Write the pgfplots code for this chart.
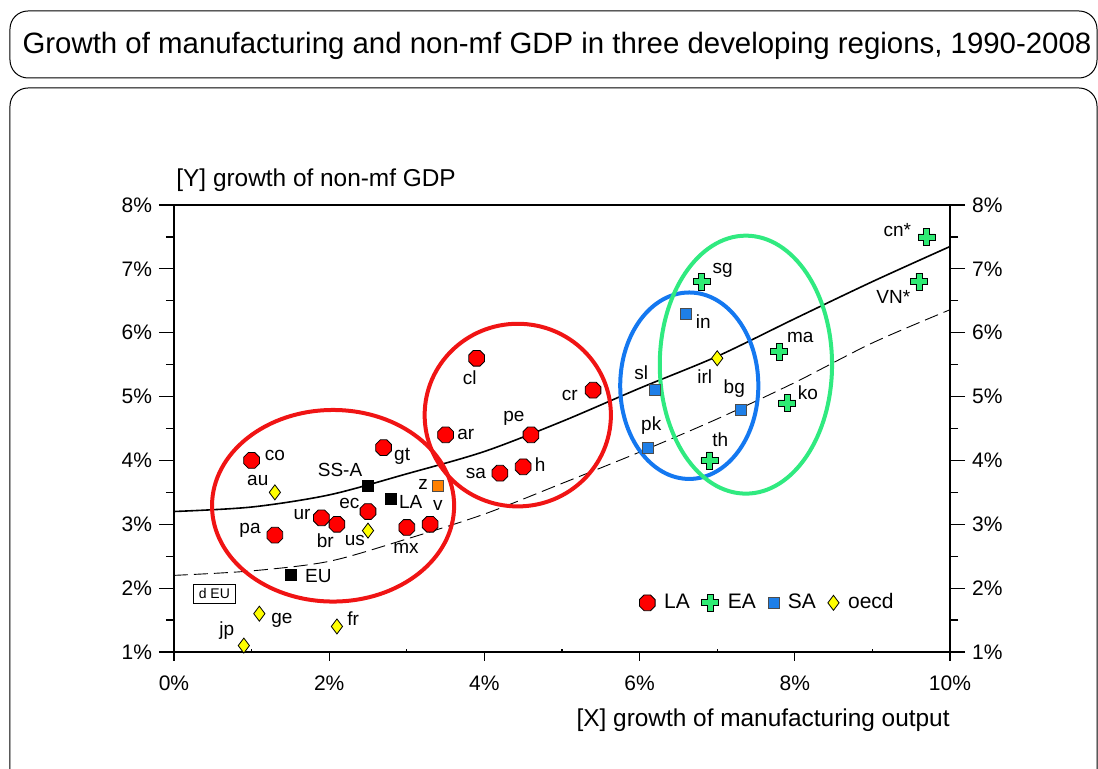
\documentclass[border=0pt]{standalone}
\usepackage{fontspec}
\setmainfont{Liberation Sans}
\usepackage{pgfplots}
\usepackage{pgfplotstable}
\pgfplotsset{compat=1.18}
\usetikzlibrary{plotmarks}

\definecolor{laRed}{HTML}{FF0000}
\definecolor{eaGreen}{HTML}{2EEB74}
\definecolor{saBlue}{HTML}{1E7FE8}
\definecolor{oeYellow}{HTML}{FFFF00}
\definecolor{zOrange}{HTML}{FF8000}
\definecolor{ringRed}{HTML}{F01414}
\definecolor{ringBlue}{HTML}{1478F0}
\definecolor{ringGreen}{HTML}{30EA80}

% octagon and fat cross marks
\pgfdeclareplotmark{octagon}{%
  \pgfpathmoveto{\pgfqpointpolar{22.5}{\pgfplotmarksize}}%
  \pgfpathlineto{\pgfqpointpolar{67.5}{\pgfplotmarksize}}%
  \pgfpathlineto{\pgfqpointpolar{112.5}{\pgfplotmarksize}}%
  \pgfpathlineto{\pgfqpointpolar{157.5}{\pgfplotmarksize}}%
  \pgfpathlineto{\pgfqpointpolar{202.5}{\pgfplotmarksize}}%
  \pgfpathlineto{\pgfqpointpolar{247.5}{\pgfplotmarksize}}%
  \pgfpathlineto{\pgfqpointpolar{292.5}{\pgfplotmarksize}}%
  \pgfpathlineto{\pgfqpointpolar{337.5}{\pgfplotmarksize}}%
  \pgfpathclose\pgfusepathqfillstroke}
\pgfdeclareplotmark{fatplus}{%
  \pgfpathmoveto{\pgfqpoint{0.35\pgfplotmarksize}{\pgfplotmarksize}}%
  \pgfpathlineto{\pgfqpoint{0.35\pgfplotmarksize}{0.35\pgfplotmarksize}}%
  \pgfpathlineto{\pgfqpoint{\pgfplotmarksize}{0.35\pgfplotmarksize}}%
  \pgfpathlineto{\pgfqpoint{\pgfplotmarksize}{-0.35\pgfplotmarksize}}%
  \pgfpathlineto{\pgfqpoint{0.35\pgfplotmarksize}{-0.35\pgfplotmarksize}}%
  \pgfpathlineto{\pgfqpoint{0.35\pgfplotmarksize}{-\pgfplotmarksize}}%
  \pgfpathlineto{\pgfqpoint{-0.35\pgfplotmarksize}{-\pgfplotmarksize}}%
  \pgfpathlineto{\pgfqpoint{-0.35\pgfplotmarksize}{-0.35\pgfplotmarksize}}%
  \pgfpathlineto{\pgfqpoint{-\pgfplotmarksize}{-0.35\pgfplotmarksize}}%
  \pgfpathlineto{\pgfqpoint{-\pgfplotmarksize}{0.35\pgfplotmarksize}}%
  \pgfpathlineto{\pgfqpoint{-0.35\pgfplotmarksize}{0.35\pgfplotmarksize}}%
  \pgfpathlineto{\pgfqpoint{-0.35\pgfplotmarksize}{\pgfplotmarksize}}%
  \pgfpathclose\pgfusepathqfillstroke}

\pgfplotstableread{
x y
1.0 4.0
1.3 2.83
1.9 3.1
2.1 3.0
2.5 3.2
2.7 4.2
3.0 2.95
3.3 3.0
3.5 4.4
3.9 5.6
4.2 3.8
4.5 3.9
4.6 4.4
5.4 5.1
}\dataLA
\pgfplotstableread{
x y
9.7 7.5
9.6 6.8
6.8 6.8
7.8 5.7
7.9 4.9
6.9 4.0
}\dataEA
\pgfplotstableread{
x y
6.6 6.3
6.2 5.1
6.1 4.2
7.3 4.8
}\dataSA
\pgfplotstableread{
x y
1.3 3.5
2.5 2.9
7.0 5.6
1.1 1.6
2.1 1.4
0.9 1.1
}\dataOECD
\pgfplotstableread{
x y
2.5 3.6
2.8 3.4
1.5 2.2
}\dataBlack
\pgfplotstableread{
x y
0 3.20
1 3.27
2 3.46
3 3.79
4 4.14
5 4.61
6 5.13
7 5.63
8 6.22
9 6.80
10 7.35
}\fitSolid
\pgfplotstableread{
x y
0 2.20
1 2.27
2 2.42
3 2.77
4 3.16
5 3.64
6 4.13
7 4.65
8 5.22
9 5.84
10 6.36
}\fitDashed

\begin{document}
\begin{tikzpicture}[font=\fontsize{10.5}{12.6}\selectfont]
\path[use as bounding box] (-87pt,-58.5pt) rectangle (462pt,326pt);

% frames and title, in pixel units of the reference
\begin{scope}[x=0.5pt,y=-0.5pt,shift={(-87pt,326pt)}]
\draw[line width=0.5pt,rounded corners=9pt] (10,11) rectangle (1097,78);
\draw[line width=0.5pt,rounded corners=9pt] (10,88) rectangle (1097,830);
\node[font=\fontsize{14.7}{17}\selectfont] at (557,46) {Growth of manufacturing and non-mf GDP in three developing regions, 1990-2008};
\end{scope}

% left y axis
\begin{axis}[scale only axis,width=388pt,height=223.5pt,
  xmin=0,xmax=10,ymin=1,ymax=8,axis x line=none,axis y line*=left,
  ytick={1,2,3,4,5,6,7,8},yticklabels={1\%,2\%,3\%,4\%,5\%,6\%,7\%,8\%},
  minor y tick num=1,tick align=outside,major tick length=7.5pt,minor tick length=4pt,
  axis line style={line width=0.6pt},tick style={line width=0.6pt,black}]
\end{axis}
% right y axis
\begin{axis}[scale only axis,width=388pt,height=223.5pt,
  xmin=0,xmax=10,ymin=1,ymax=8,axis x line=none,axis y line*=right,
  ytick={1,2,3,4,5,6,7,8},yticklabels={1\%,2\%,3\%,4\%,5\%,6\%,7\%,8\%},
  minor y tick num=1,tick align=outside,major tick length=7.5pt,minor tick length=4pt,
  axis line style={line width=0.6pt},tick style={line width=0.6pt,black}]
\end{axis}

\begin{axis}[scale only axis,width=388pt,height=223.5pt,
  xmin=0,xmax=10,ymin=1,ymax=8,clip=false,
  xtick={0,2,4,6,8,10},xticklabels={0\%,2\%,4\%,6\%,8\%,10\%},
  xticklabel style={yshift=-4pt},
  minor x tick num=1,xtick pos=bottom,ytick=\empty,
  tick align=outside,major tick length=4.5pt,minor tick length=1.5pt,
  minor x tick style={yshift=1.5pt},
  axis line style={line width=0.6pt},tick style={line width=0.6pt,black},
  legend style={at={(0.5915,0.11)},anchor=west,draw=none,fill=none,
    font=\fontsize{10.5}{12.6}\selectfont,
    /tikz/every even column/.append style={column sep=4pt}},
  legend columns=4]

% fitted curves
\addplot[black,line width=0.8pt,smooth,forget plot] table {\fitSolid};
\addplot[black,line width=0.45pt,smooth,dash pattern=on 7pt off 3pt,forget plot] table {\fitDashed};

% group rings
\draw[ringRed,line width=2pt] (axis cs:2.05,3.29) ellipse [x radius=1.56,y radius=1.50];
\draw[ringRed,line width=2pt] (axis cs:4.43,4.71) ellipse [x radius=1.20,y radius=1.43];
\draw[ringBlue,line width=2pt] (axis cs:6.64,5.17) ellipse [x radius=0.89,y radius=1.46];
\draw[ringGreen,line width=2pt] (axis cs:7.37,5.50) ellipse [x radius=1.11,y radius=2.02];

\addplot[only marks,mark=octagon,mark size=4.25pt,mark options={fill=laRed,draw=black,line width=0.4pt}] table {\dataLA};
\addlegendentry{\hspace{2.5pt}LA}
\addplot[only marks,mark=fatplus,mark size=4.25pt,mark options={fill=eaGreen,draw=black,line width=0.4pt}] table {\dataEA};
\addlegendentry{\hspace{2.5pt}EA}
\addplot[only marks,mark=square*,mark size=2.75pt,mark options={fill=saBlue,draw=black!70,line width=0.3pt}] table {\dataSA};
\addlegendentry{\hspace{2.5pt}SA}
\addplot[only marks,mark=diamond*,mark size=3.75pt,mark options={fill=oeYellow,draw=black,line width=0.4pt}] table {\dataOECD};
\addlegendentry{\hspace{2.5pt}oecd}
\addplot[only marks,mark=square*,mark size=2.75pt,mark options={fill=black,draw=black},forget plot] table {\dataBlack};
\addplot[only marks,mark=square*,mark size=2.75pt,mark options={fill=zOrange,draw=black!70,line width=0.3pt},forget plot] coordinates {(3.4,3.6)};

% point labels
\begin{scope}[every node/.style={font=\fontsize{9.5}{11}\selectfont,inner sep=0pt}]
\node at (axis cs:1.30,4.07) {co};
\node at (axis cs:1.08,3.68) {au};
\node at (axis cs:2.14,3.85) {SS-A};
\node at (axis cs:2.94,4.07) {gt};
\node at (axis cs:2.26,3.33) {ec};
\node at (axis cs:3.05,3.35) {LA};
\node at (axis cs:3.21,3.62) {z};
\node at (axis cs:3.40,3.30) {v};
\node at (axis cs:1.65,3.16) {ur};
\node at (axis cs:0.98,2.91) {pa};
\node at (axis cs:1.95,2.75) {br};
\node at (axis cs:2.33,2.75) {us};
\node at (axis cs:2.99,2.63) {mx};
\node at (axis cs:1.86,2.19) {EU};
\node at (axis cs:1.39,1.50) {ge};
\node at (axis cs:2.31,1.53) {fr};
\node at (axis cs:0.68,1.34) {jp};
\node at (axis cs:3.76,4.41) {ar};
\node at (axis cs:3.81,5.29) {cl};
\node at (axis cs:3.89,3.80) {sa};
\node at (axis cs:4.72,3.93) {h};
\node at (axis cs:4.38,4.66) {pe};
\node at (axis cs:5.10,5.01) {cr};
\node at (axis cs:6.02,5.38) {sl};
\node at (axis cs:6.82,6.17) {in};
\node at (axis cs:7.07,6.98) {sg};
\node at (axis cs:6.84,5.31) {irl};
\node at (axis cs:7.22,5.13) {bg};
\node at (axis cs:6.15,4.54) {pk};
\node at (axis cs:7.04,4.32) {th};
\node at (axis cs:8.07,5.92) {ma};
\node at (axis cs:8.17,5.06) {ko};
\node at (axis cs:9.32,7.61) {cn*};
\node at (axis cs:9.27,6.56) {VN*};
\node[draw,line width=0.4pt,inner xsep=2.5pt,inner ysep=2pt,font=\fontsize{7}{8}\selectfont] at (axis cs:0.52,1.91) {d EU};
\end{scope}

% axis titles
\node[anchor=west,inner sep=0pt,font=\fontsize{12.2}{14}\selectfont] at (rel axis cs:0,1) [xshift=1pt,yshift=12.5pt] {[Y] growth of non-mf GDP};
\node[anchor=east,inner sep=0pt,font=\fontsize{12.2}{14}\selectfont] at (rel axis cs:1,0) [yshift=-34pt] {[X] growth of manufacturing output};
\end{axis}
\end{tikzpicture}
\end{document}
